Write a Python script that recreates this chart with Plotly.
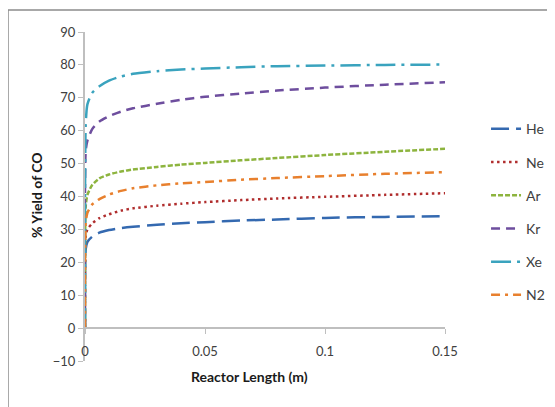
import plotly.graph_objects as go

# ---- data ----
reactor_length = [0, 0.0003, 0.001, 0.003, 0.006, 0.01, 0.015, 0.02, 0.03, 0.04,
                  0.05, 0.065, 0.08, 0.1, 0.125, 0.15]
he = [0, 24, 26.2, 27.8, 29.0, 29.8, 30.4, 30.8, 31.4, 31.9, 32.2, 32.7, 33.0, 33.5, 33.8, 34.0]
ne = [0, 28, 30, 31.8, 33.4, 34.6, 35.7, 36.4, 37.2, 37.8, 38.3, 38.9, 39.4, 39.9, 40.5, 41.0]
ar = [0, 37, 40.5, 43.5, 45.5, 46.7, 47.6, 48.2, 49.0, 49.7, 50.2, 51.0, 51.7, 52.6, 53.6, 54.5]
kr = [0, 54, 57, 60.5, 62.8, 64.4, 65.8, 66.8, 68.2, 69.4, 70.3, 71.3, 72.2, 73.1, 74.0, 74.7]
xe = [0, 62, 68, 71.5, 73.5, 75.2, 76.5, 77.3, 78.1, 78.6, 78.9, 79.3, 79.6, 79.8, 80.0, 80.1]
n2 = [0, 32, 35, 37.6, 39.2, 40.6, 41.7, 42.5, 43.4, 44.0, 44.4, 45.1, 45.6, 46.2, 46.9, 47.4]

series_names = ["He", "Ne", "Ar", "Kr", "Xe", "N2"]
series_values = [he, ne, ar, kr, xe, n2]
x_tick_vals = [0, 0.05, 0.1, 0.15]
x_tick_text = ["0", "0.05", "0.1", "0.15"]

# ---- styles ----
colors = ["#3469B0", "#B02D2D", "#8DB43E", "#6E4E9E", "#3AA3BE", "#E8802E"]
dashes = ["18px,7px", "2.5px,3.5px", "5px,2px", "9px,6px", "20px,6px,3px,6px", "9px,5px,3px,5px"]

FONT = "Lato, Carlito, Open Sans, sans-serif"
TICKC = "#404040"
AXC = "#BFBFBF"

fig = go.Figure()
for i, (name, vals) in enumerate(zip(series_names, series_values)):
    fig.add_trace(go.Scatter(
        x=reactor_length, y=vals, name=name, mode="lines",
        line=dict(color=colors[i], width=2.5, dash=dashes[i], shape="spline", smoothing=0.6),
        legendgroup=name,
    ))

# dummy trace to carry the tick-label axis
fig.add_trace(go.Scatter(x=[None], y=[None], xaxis="x2", showlegend=False, hoverinfo="skip"))

# the page body adds an 8px offset, so the figure is 8px smaller and margins shifted
fig.update_layout(
    width=547, height=399,
    margin=dict(l=77, r=110, t=24, b=46, autoexpand=False),
    paper_bgcolor="white", plot_bgcolor="white",
    font=dict(family=FONT, size=13, color=TICKC),
    xaxis=dict(
        range=[0, 0.15], anchor="free", position=0.1,
        showline=True, linecolor=AXC, linewidth=2,
        ticks="outside", ticklen=5, tickcolor=AXC, tickwidth=1,
        tickvals=x_tick_vals, showticklabels=False,
        showgrid=False, zeroline=False,
    ),
    xaxis2=dict(
        range=[0, 0.15], overlaying="x", anchor="free", position=0.058, side="bottom",
        showline=False, showgrid=False, zeroline=False, ticks="",
        tickvals=x_tick_vals, ticktext=x_tick_text,
        tickfont=dict(family=FONT, size=13, color=TICKC),
    ),
    yaxis=dict(
        range=[-10, 90], dtick=10, tick0=0,
        showline=True, linecolor=AXC, linewidth=2,
        ticks="outside", ticklen=5, tickcolor=AXC,
        showgrid=False, zeroline=False,
        tickfont=dict(family=FONT, size=13, color=TICKC),
    ),
    legend=dict(
        x=1.114, xanchor="left", y=0.753, yanchor="top",
        font=dict(family=FONT, size=14, color="#404040"),
        tracegroupgap=12, bgcolor="rgba(0,0,0,0)",
    ),
    showlegend=True,
)

fig.add_annotation(text="<b>Reactor Length (m)</b>", xref="paper", yref="paper",
                   x=0.458, y=-0.048, xanchor="center", yanchor="middle", showarrow=False,
                   font=dict(family=FONT, size=14, color="#1a1a1a"))
fig.add_annotation(text="<b>% Yield of CO</b>", xref="paper", yref="paper",
                   x=-0.133, y=0.505, xanchor="center", yanchor="middle", textangle=-90,
                   showarrow=False, font=dict(family=FONT, size=14, color="#1a1a1a"))

# chart border (extends past right/bottom edges as in the reference)
fig.add_shape(type="rect", xref="paper", yref="paper",
              x0=-0.2139, y0=-1.0, x1=2.0, y1=1.0669,
              line=dict(color="#8C8C8C", width=1.5), fillcolor="rgba(0,0,0,0)", layer="below")

fig.write_html("out.html")
